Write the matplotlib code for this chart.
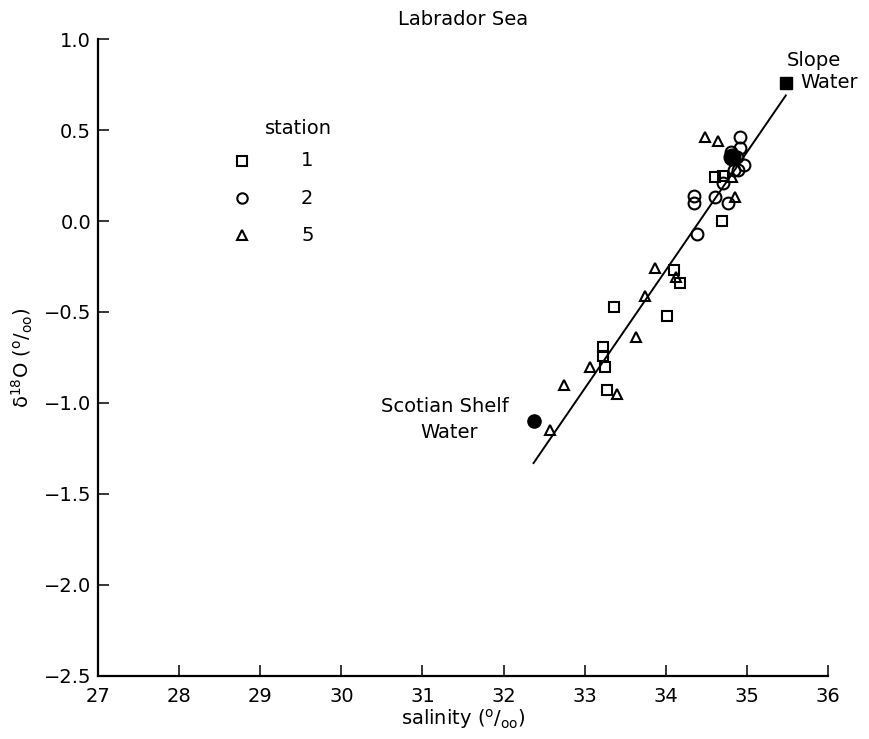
import numpy as np
import matplotlib
matplotlib.use("Agg")
import matplotlib.pyplot as plt

# ------------------------------------------------------------
# data (salinity, d18O)
# ------------------------------------------------------------

st1_sal = [34.61, 34.70, 34.69, 34.10, 34.17, 33.36, 34.01, 33.23, 33.23, 33.25, 33.27]
st1_d18 = [0.24, 0.25, 0.00, -0.27, -0.34, -0.47, -0.52, -0.69, -0.74, -0.80, -0.93]

st2_sal = [34.92, 34.92, 34.96, 34.89, 34.84, 34.88, 34.80, 34.71, 34.35, 34.35, 34.61, 34.77, 34.38]
st2_d18 = [0.46, 0.40, 0.31, 0.28, 0.28, 0.35, 0.38, 0.21, 0.14, 0.10, 0.13, 0.10, -0.07]

st5_sal = [34.48, 34.65, 34.85, 34.82, 33.87, 34.12, 33.74, 33.63, 33.06, 32.75, 33.40, 32.57]
st5_d18 = [0.46, 0.44, 0.13, 0.24, -0.26, -0.31, -0.41, -0.64, -0.80, -0.90, -0.95, -1.15]

# end members
slope_sal, slope_d18 = 35.48, 0.76
shelf_sal, shelf_d18 = 32.37, -1.10
blob_sal, blob_d18 = 34.82, 0.35

# mixing line end points
line_sal = [32.37, 35.48]
line_d18 = [-1.33, 0.69]

x_ticks = list(range(27, 37))
y_ticks = [1.0, 0.5, 0.0, -0.5, -1.0, -1.5, -2.0, -2.5]

FS = 14

# ------------------------------------------------------------
# figure
# ------------------------------------------------------------

fig = plt.figure(figsize=(8.69, 7.39), dpi=100)
ax = fig.add_axes([0.1128, 0.0853, 0.8400, 0.8619])

ax.plot(line_sal, line_d18, color="black", linewidth=1.4, zorder=2)

mk = dict(linestyle="none", markerfacecolor="none", markeredgecolor="black",
          markeredgewidth=1.5, zorder=3)
ax.plot(st1_sal, st1_d18, marker="s", markersize=7.5, **mk)
ax.plot(st2_sal, st2_d18, marker="o", markersize=8.5, **mk)
ax.plot(st5_sal, st5_d18, marker="^", markersize=7.5, **mk)

ax.plot([blob_sal], [blob_d18], marker="o", markersize=12, color="black",
        linestyle="none", zorder=4)
ax.plot([slope_sal], [slope_d18], marker="s", markersize=8, color="black",
        linestyle="none", zorder=4)
ax.plot([shelf_sal], [shelf_d18], marker="o", markersize=9.5, color="black",
        linestyle="none", zorder=4)

# legend drawn by hand
ax.text(29.47, 0.51, "station", fontsize=FS, ha="center", va="center")
leg_x = 28.77
leg_y = [0.33, 0.126, -0.077]
leg_m = ["s", "o", "^"]
leg_s = [7, 7.5, 7]
leg_lbl = ["1", "2", "5"]
for yy, m, s, lb in zip(leg_y, leg_m, leg_s, leg_lbl):
    ax.plot([leg_x], [yy], marker=m, markersize=s, linestyle="none",
            markerfacecolor="none", markeredgecolor="black", markeredgewidth=1.5)
    ax.text(29.58, yy, lb, fontsize=FS, ha="center", va="center")

# annotations
ax.text(35.83, 0.88, "Slope", fontsize=FS, ha="center", va="center")
ax.text(36.02, 0.76, "Water", fontsize=FS, ha="center", va="center")
ax.text(31.28, -1.02, "Scotian Shelf", fontsize=FS, ha="center", va="center")
ax.text(31.33, -1.16, "Water", fontsize=FS, ha="center", va="center")

ax.set_title("Labrador Sea", fontsize=FS, pad=10)

ax.set_xlim(27, 36)
ax.set_ylim(-2.5, 1.0)
ax.set_xticks(x_ticks)
ax.set_yticks(y_ticks)
ax.set_yticklabels([f"{v:.1f}".replace("-", "\u2212") for v in y_ticks])

ax.spines["top"].set_visible(False)
ax.spines["right"].set_visible(False)
ax.spines["left"].set_linewidth(1.6)
ax.spines["bottom"].set_linewidth(1.6)
ax.tick_params(axis="both", direction="in", length=8, width=1.1, labelsize=FS)
ax.tick_params(axis="x", pad=8)
ax.tick_params(axis="y", pad=5)

ax.set_xlabel("salinity ($^\\mathrm{o}$/$_\\mathrm{oo}$)", fontsize=FS, labelpad=1)
ax.set_ylabel("\u03b4$^{18}$O ($^\\mathrm{o}$/$_\\mathrm{oo}$)", fontsize=FS, labelpad=6)

fig.savefig("out.png", dpi=100)
